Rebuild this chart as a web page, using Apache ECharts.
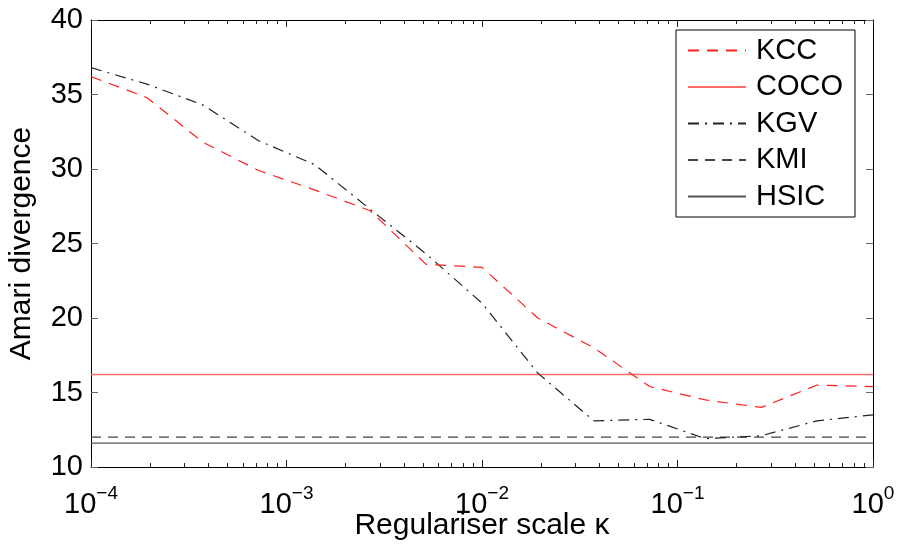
<!DOCTYPE html>
<html>
<head>
<meta charset="utf-8">
<script src="https://cdn.jsdelivr.net/npm/echarts@6/dist/echarts.min.js"></script>
<style>
  html, body { margin: 0; padding: 0; background: #fff; }
  #chart { width: 898px; height: 547px; }
</style>
</head>
<body>
<div id="chart"></div>
<script>
// regulariser scale kappa (15 log-spaced points, 1e-4 .. 1)
const kappa = [1e-4, 1.93e-4, 3.73e-4, 7.2e-4, 1.39e-3, 2.68e-3, 5.18e-3, 1e-2,
               1.93e-2, 3.73e-2, 7.2e-2, 1.39e-1, 2.68e-1, 5.18e-1, 1];
const kcc = [36.2, 34.8, 31.8, 29.9, 28.6, 27.2, 23.6, 23.4, 20.0, 18.0, 15.4, 14.5, 14.0, 15.5, 15.4];
const kgv = [36.8, 35.7, 34.3, 31.9, 30.3, 27.3, 24.3, 21.0, 16.3, 13.1, 13.2, 11.9, 12.1, 13.1, 13.5];
// constant methods (flat lines across the whole range)
const xEnds = [1e-4, 1];
const coco = 16.2;
const kmi = 12.0;
const hsic = 11.6;
const names = ["KCC", "COCO", "KGV", "KMI", "HSIC"];

const FONT = "Liberation Sans";
const chart = echarts.init(document.getElementById("chart"));

const pairs = (xs, ys) => xs.map((x, i) => [x, ys[i]]);
const flat = v => xEnds.map(x => [x, v]);

const xTickStyle = {
  show: true, inside: true, length: 7, lineStyle: { color: "#222", width: 1 }
};
const xMinor = {
  show: true, splitNumber: 9, length: 4, lineStyle: { color: "#222", width: 1 }
};
const yTickStyle = {
  show: true, inside: true, length: 7, lineStyle: { color: "#666", width: 1 }
};

const option = {
  animation: false,
  backgroundColor: "#fff",
  grid: { left: 91, right: 25, top: 20, bottom: 80, outerBoundsMode: "none", containLabel: false },
  legend: {
    data: names,
    orient: "vertical",
    left: 676,
    top: 30,
    padding: [6, 12, 6, 11],
    itemWidth: 58,
    itemHeight: 14,
    itemGap: 7.5,
    borderColor: "#000",
    borderWidth: 1,
    backgroundColor: "#fff",
    itemStyle: { opacity: 0 },
    textStyle: { fontFamily: FONT, fontSize: 29, color: "#000", lineHeight: 29, padding: [0, 0, 0, 5] }
  },
  xAxis: [
    {
      type: "log",
      logBase: 10,
      min: 1e-4,
      max: 1,
      name: "Regulariser scale \u03ba",
      nameLocation: "middle",
      nameGap: 44,
      nameMoveOverlap: false,
      nameTextStyle: { fontFamily: FONT, fontSize: 30, color: "#000" },
      axisLine: { lineStyle: { color: "#000", width: 1 } },
      axisTick: xTickStyle,
      minorTick: xMinor,
      splitLine: { show: false },
      axisLabel: {
        margin: 17,
        formatter: v => "{b|10}{s|" + String(Math.round(Math.log10(v))).replace("-", "\u2212") + "}",
        rich: {
          b: { fontFamily: FONT, fontSize: 29, color: "#000", lineHeight: 42 },
          s: { fontFamily: FONT, fontSize: 19, color: "#000", lineHeight: 19, verticalAlign: "top" }
        }
      }
    },
    {
      type: "log",
      logBase: 10,
      min: 1e-4,
      max: 1,
      position: "top",
      axisLine: { lineStyle: { color: "#000", width: 1 } },
      axisTick: xTickStyle,
      minorTick: xMinor,
      axisLabel: { show: false },
      splitLine: { show: false }
    }
  ],
  yAxis: [
    {
      type: "value",
      min: 10,
      max: 40,
      interval: 5,
      name: "Amari divergence",
      nameLocation: "middle",
      nameGap: 54,
      nameMoveOverlap: false,
      nameTextStyle: { fontFamily: FONT, fontSize: 30, color: "#000" },
      axisLine: { show: true, lineStyle: { color: "#000", width: 1 } },
      axisTick: yTickStyle,
      axisLabel: { fontFamily: FONT, fontSize: 29, color: "#000", margin: 8 },
      splitLine: { show: false }
    },
    {
      type: "value",
      min: 10,
      max: 40,
      interval: 5,
      position: "right",
      axisLine: { show: true, lineStyle: { color: "#000", width: 1 } },
      axisTick: yTickStyle,
      axisLabel: { show: false },
      splitLine: { show: false }
    }
  ],
  series: [
    {
      name: "KCC", type: "line", symbol: "none", z: 5,
      data: pairs(kappa, kcc),
      lineStyle: { color: "#ff2020", width: 1.2, type: [11, 8] },
      itemStyle: { color: "#ff2020" }
    },
    {
      name: "COCO", type: "line", symbol: "none", z: 3,
      data: flat(coco),
      lineStyle: { color: "#ff6a6a", width: 1.5, type: "solid" },
      itemStyle: { color: "#ff6a6a" }
    },
    {
      name: "KGV", type: "line", symbol: "none", z: 4,
      data: pairs(kappa, kgv),
      lineStyle: { color: "#222", width: 1.2, type: [11, 6, 2, 6] },
      itemStyle: { color: "#222" }
    },
    {
      name: "KMI", type: "line", symbol: "none", z: 3,
      data: flat(kmi),
      lineStyle: { color: "#444", width: 1.2, type: [10, 7] },
      itemStyle: { color: "#444" }
    },
    {
      name: "HSIC", type: "line", symbol: "none", z: 3,
      data: flat(hsic),
      lineStyle: { color: "#555", width: 1.4, type: "solid" },
      itemStyle: { color: "#555" }
    }
  ]
};

chart.setOption(option);
</script>
</body>
</html>
